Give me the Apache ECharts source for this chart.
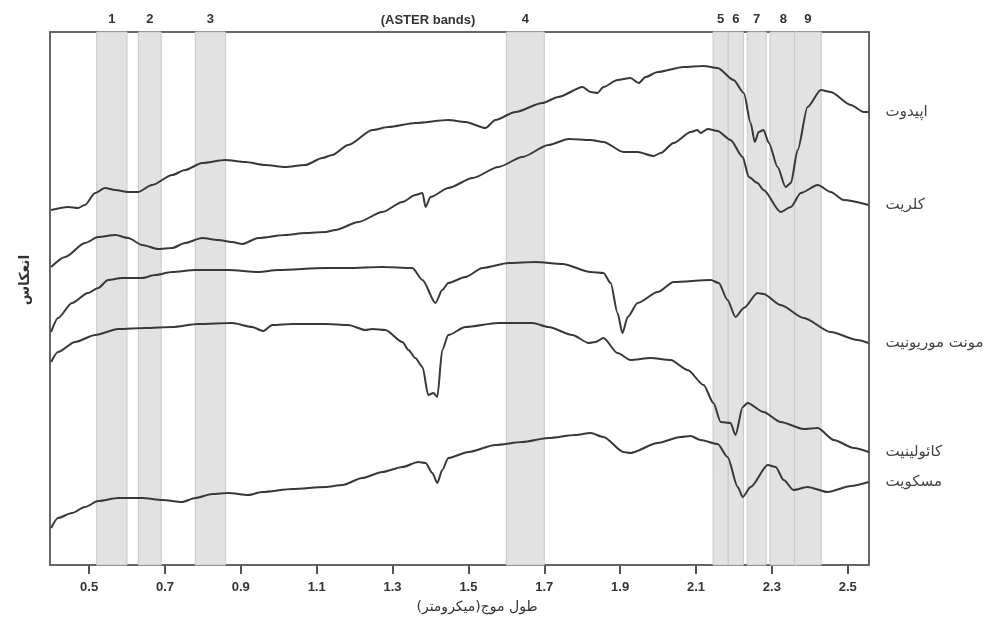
<!DOCTYPE html>
<html>
<head>
<meta charset="utf-8">
<script src="https://cdn.jsdelivr.net/npm/echarts@6/dist/echarts.min.js"></script>
<style>
html,body{margin:0;padding:0;background:#fff;}
#chart{width:995px;height:618px;}
</style>
</head>
<body>
<div id="chart"></div>
<script>
// Wavelength ticks (micrometres)
var xTicks = [0.5, 0.7, 0.9, 1.1, 1.3, 1.5, 1.7, 1.9, 2.1, 2.3, 2.5];

// ASTER bands
var bandNames = ['1','2','3','4','5','6','7','8','9'];
var bandStart = [0.52, 0.63, 0.78, 1.60, 2.145, 2.185, 2.235, 2.295, 2.360];
var bandEnd   = [0.60, 0.69, 0.86, 1.70, 2.185, 2.225, 2.285, 2.365, 2.430];

// Relative (offset) reflectance curves
var epidoteWl = [0.4,0.445,0.471,0.489,0.516,0.542,0.569,0.603,0.629,0.666,0.719,0.753,0.798,0.859,0.912,0.964,1.017,1.07,1.115,1.141,1.183,1.247,1.289,1.36,1.447,1.492,1.545,1.571,1.624,1.695,1.737,1.801,1.822,1.84,1.856,1.893,1.927,1.949,1.967,1.999,2.067,2.12,2.157,2.199,2.226,2.244,2.255,2.265,2.278,2.292,2.315,2.336,2.35,2.368,2.394,2.429,2.455,2.508,2.542,2.555];
var epidoteR  = [355,358,357,360,372,377,375,373,373,380,390,395,402,405,403,400,398,400,407,410,420,435,438,442,445,443,437,445,453,462,468,478,473,472,478,485,487,482,488,493,498,499,497,485,472,442,423,433,435,422,398,378,382,415,458,475,473,460,453,453];

var chloriteWl = [0.4,0.437,0.489,0.524,0.569,0.603,0.64,0.682,0.719,0.753,0.798,0.84,0.877,0.904,0.946,1.017,1.07,1.123,1.149,1.21,1.273,1.326,1.36,1.379,1.387,1.4,1.447,1.511,1.579,1.642,1.711,1.764,1.822,1.856,1.909,1.946,1.988,2.007,2.041,2.086,2.104,2.112,2.131,2.157,2.191,2.223,2.239,2.262,2.278,2.323,2.35,2.376,2.421,2.455,2.489,2.555];
var chloriteR  = [298,308,322,328,330,327,320,316,317,322,327,325,323,321,327,330,332,333,335,343,353,363,370,372,358,368,377,387,398,408,420,426,425,423,413,413,409,412,422,433,435,432,436,434,425,408,388,382,375,353,358,372,380,373,365,360];

var montWl = [0.4,0.418,0.455,0.497,0.524,0.55,0.587,0.64,0.674,0.719,0.78,0.867,0.946,0.999,1.123,1.183,1.273,1.352,1.379,1.413,1.431,1.447,1.492,1.537,1.606,1.677,1.748,1.822,1.856,1.875,1.893,1.906,1.92,1.946,1.999,2.041,2.139,2.16,2.183,2.204,2.226,2.262,2.278,2.323,2.384,2.455,2.526,2.555];
var montR  = [233,247,262,272,277,285,287,287,290,293,295,295,293,295,297,297,298,297,285,262,275,282,288,297,302,303,301,293,292,282,252,232,248,262,273,283,285,282,265,248,257,272,271,260,247,233,225,222];

var kaolWl = [0.4,0.418,0.463,0.516,0.577,0.648,0.719,0.788,0.877,0.93,0.959,0.983,1.036,1.123,1.183,1.228,1.247,1.281,1.326,1.342,1.36,1.379,1.394,1.408,1.418,1.431,1.447,1.492,1.579,1.669,1.711,1.774,1.817,1.835,1.856,1.893,1.927,1.98,2.033,2.078,2.12,2.146,2.165,2.191,2.204,2.223,2.236,2.278,2.323,2.384,2.421,2.463,2.516,2.555];
var kaolR  = [203,213,223,230,236,237,238,241,242,238,234,240,241,241,240,235,236,235,223,215,207,198,170,172,168,215,230,238,242,242,238,230,222,223,227,212,205,207,205,195,180,162,143,142,130,158,162,153,143,136,137,125,117,113];

var muscWl = [0.4,0.418,0.455,0.489,0.524,0.577,0.64,0.693,0.745,0.78,0.825,0.867,0.92,0.956,1.036,1.123,1.168,1.22,1.273,1.326,1.368,1.387,1.405,1.418,1.431,1.447,1.5,1.571,1.642,1.711,1.782,1.822,1.856,1.909,1.927,1.999,2.059,2.086,2.112,2.157,2.183,2.21,2.223,2.244,2.289,2.31,2.331,2.357,2.394,2.447,2.508,2.555];
var muscR  = [37,47,52,58,64,67,67,65,63,67,71,72,70,73,76,78,80,87,93,98,103,102,92,82,95,107,113,120,123,127,130,132,128,113,112,122,128,129,125,121,108,78,68,78,100,98,85,75,78,73,79,83];

var seriesNames = ['اپیدوت', 'کلریت', 'مونت موریونیت', 'کائولینیت', 'مسکویت'];
var seriesWl = [epidoteWl, chloriteWl, montWl, kaolWl, muscWl];
var seriesR = [epidoteR, chloriteR, montR, kaolR, muscR];

function pairs(a, b) {
  var out = [];
  for (var i = 0; i < Math.min(a.length, b.length); i++) out.push([a[i], b[i]]);
  return out;
}

var bandAreas = bandNames.map(function (n, i) {
  return [{ name: n, xAxis: bandStart[i] }, { xAxis: bandEnd[i] }];
});

var series = [{
  type: 'line',
  name: 'bands',
  data: [],
  silent: true,
  z: 1,
  markArea: {
    silent: true,
    itemStyle: { color: '#e2e2e2', borderColor: '#c9c9c9', borderWidth: 1 },
    label: {
      show: true, position: 'top', distance: 6,
      color: '#333', fontSize: 13, fontWeight: 'bold', fontFamily: 'Liberation Sans'
    },
    data: bandAreas
  }
}];

seriesNames.forEach(function (name, i) {
  series.push({
    type: 'line',
    name: name,
    data: pairs(seriesWl[i], seriesR[i]),
    showSymbol: false,
    smooth: 0.25,
    smoothMonotone: 'x',
    z: 3,
    lineStyle: { color: '#383838', width: 2 },
    endLabel: {
      show: true,
      formatter: function (p) { return p.seriesName; },
      distance: 17,
      color: '#444',
      fontSize: 15,
      fontFamily: 'DejaVu Sans'
    }
  });
});

var chart = echarts.init(document.getElementById('chart'), null, { renderer: 'canvas' });
chart.setOption({
  animation: false,
  backgroundColor: '#fff',
  grid: {
    left: 50, right: 126, top: 32, bottom: 53,
    show: true, borderColor: '#666', borderWidth: 2, backgroundColor: 'transparent'
  },
  xAxis: {
    type: 'value',
    min: 0.397, max: 2.556,
    axisLine: { show: true, lineStyle: { color: '#666', width: 2 } },
    axisTick: { show: true, length: 9, lineStyle: { color: '#555', width: 2 }, customValues: xTicks },
    axisLabel: {
      customValues: xTicks,
      formatter: function (v) { return v.toFixed(1); },
      color: '#333', fontSize: 13, fontWeight: 'bold', fontFamily: 'Liberation Sans', margin: 16
    },
    splitLine: { show: false }
  },
  yAxis: {
    type: 'value', min: 0, max: 533,
    axisLine: { show: true, lineStyle: { color: '#666', width: 2 } },
    axisTick: { show: false }, axisLabel: { show: false }, splitLine: { show: false }
  },
  graphic: [
    {
      type: 'text', x: 428, y: 20,
      style: { text: '(ASTER bands)', fill: '#333', font: 'bold 13px "Liberation Sans"', textAlign: 'center', textVerticalAlign: 'middle' }
    },
    {
      type: 'text', x: 477, y: 607,
      style: { text: 'طول موج(میکرومتر)', fill: '#333', font: '14px "DejaVu Sans"', textAlign: 'center', textVerticalAlign: 'middle' }
    },
    {
      type: 'text', x: 25, y: 280, rotation: Math.PI / 2,
      style: { text: 'انعکاس', fill: '#333', font: 'bold 14px "DejaVu Sans"', textAlign: 'center', textVerticalAlign: 'middle' }
    }
  ],
  series: series
});
</script>
</body>
</html>
